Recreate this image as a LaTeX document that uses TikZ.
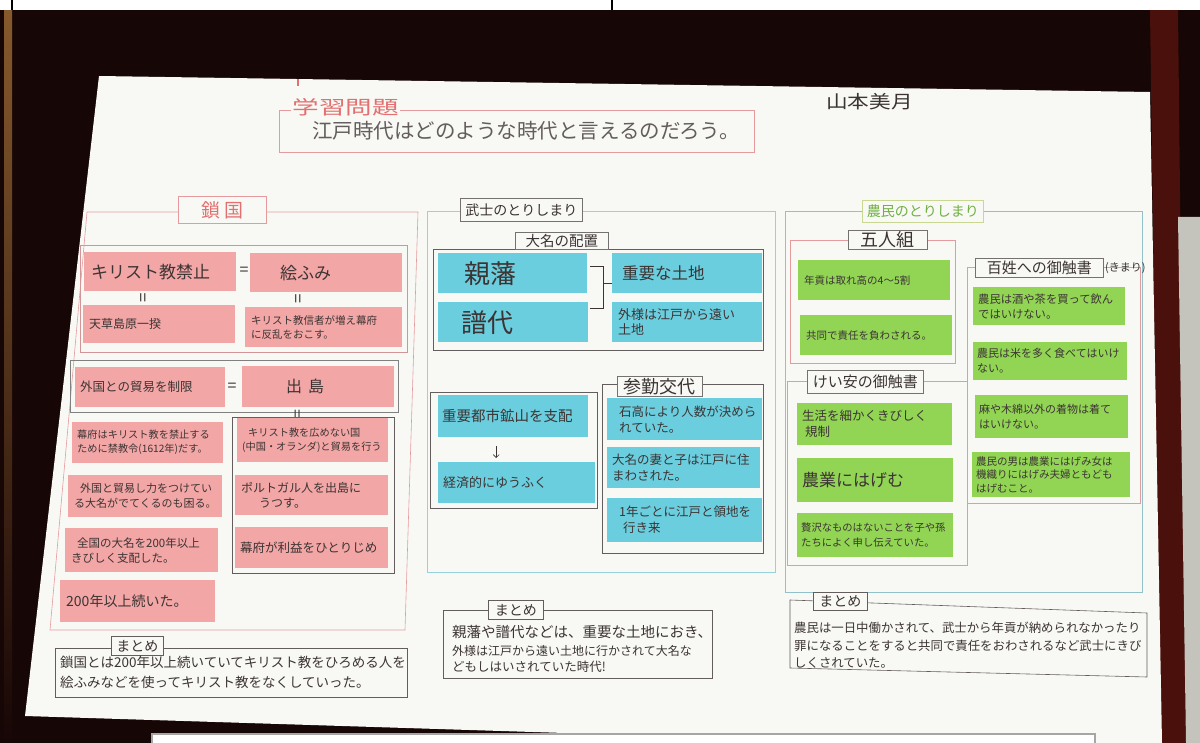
\documentclass[tikz,border=0pt]{standalone}
\usepackage{fontspec}
\setmainfont{Noto Sans CJK JP}
\usetikzlibrary{calc,arrows.meta}
\definecolor{paperc}{HTML}{F8F9F4}
\definecolor{pinkc}{HTML}{F2A6A5}
\definecolor{cyanc}{HTML}{6BCEDE}
\definecolor{greenc}{HTML}{92D454}
\definecolor{inkc}{HTML}{3C3434}
\definecolor{redline}{HTML}{E59A9E}
\definecolor{cyanline}{HTML}{96D2DC}
\definecolor{darkbg}{HTML}{170606}
\definecolor{maroon}{HTML}{4A100C}
\definecolor{greyright}{HTML}{C4C4BC}
\definecolor{titlered}{HTML}{E27070}
\definecolor{greentxt}{HTML}{6FB040}
\definecolor{greenline}{HTML}{C8D890}
\newcommand\myfs[2]{\fontsize{#1pt}{#2pt}\selectfont}
\tikzset{
  box/.style={anchor=north west, inner sep=0pt, align=left, text=inkc},
  bx/.style n args={3}{minimum width=#1pt, minimum height=#2pt, text width=#3pt},
  pbox/.style={box, fill=pinkc},
  cbox/.style={box, fill=cyanc},
  gbox/.style={box, fill=greenc},
  lab/.style={anchor=north west, draw=#1, fill=paperc, inner sep=0pt, line width=0.6pt, text=inkc},
  frm/.style={draw=#1, line width=0.6pt},
  ln/.style={draw=inkc, line width=0.6pt},
  txt/.style={anchor=north west, inner sep=0pt, align=left, text=inkc},
  eqv/.style={text=inkc, inner sep=0pt},
}
\begin{document}
\begin{tikzpicture}[x=1pt,y=-1pt]
\useasboundingbox (0,0) rectangle (1200,743);
% ---------- photo background ----------
\fill[darkbg] (0,0) rectangle (1200,743);
\shade[top color=black!30!brown, bottom color=darkbg] (4,10) rectangle (12,743);
\fill[maroon] (1150,10) -- (1178,10) -- (1186,743) -- (1160,743) -- cycle;
\fill[greyright] (1178,217) -- (1200,217) -- (1200,743) -- (1186,743) -- cycle;
\fill[paperc] (99,76) -- (1150,92) -- (1162,743) -- (700,743) -- (660,736) -- (25,716) -- cycle;
\draw[titlered, line width=1.2pt] (298,79) -- (298,86);
\fill[white] (0,0) rectangle (1200,10);
\draw[black, line width=1.2pt] (12,0) -- (12,10);
\draw[black, line width=1.2pt] (612,0) -- (612,10);
\draw[fill=white, draw=gray!70, line width=1.5pt] (152,734) rectangle (1095,746);

% ---------- title ----------
\draw[frm=redline] (279,110) rectangle (754,152);
\node[anchor=north west, fill=paperc, inner sep=1pt, text=titlered, xscale=1.4, font={\myfs{19}{20}}] (gakushu) at (291,97) {学習問題};
\node[txt, text=inkc!80, font={\myfs{20.5}{22}}] (toi) at (312,121) {江戸時代はどのような時代と言えるのだろう。};
\node[txt, xscale=1.2, font={\myfs{18}{20}}] (name) at (826,93) {山本美月};

% ---------- 鎖国 ----------
\draw[frm=redline] (87,212) -- (418,212) -- (405,630) -- (50,630) -- cycle;
\node[lab=redline, text=titlered, minimum width=88pt, minimum height=27pt, font={\myfs{19}{20}}] (sakoku) at (178,196) {鎖 国};

\draw[frm=redline!80!gray] (80,245) rectangle (407,352);
\node[pbox, bx={152}{39}{138}, font={\myfs{17}{20}}] (kin) at (84,252) {キリスト教禁止};
\node[eqv, font={\myfs{16}{16}}] (eqa) at (244,271) {=};
\node[pbox, bx={152}{39}{136}, font={\myfs{17}{20}}] (efumi) at (250,253) {\hspace*{22pt}絵ふみ};
\node[eqv, rotate=90, font={\myfs{17}{17}}] (qa) at (145,298) {=};
\node[eqv, rotate=90, font={\myfs{17}{17}}] (qb) at (300,299) {=};
\node[pbox, bx={152}{38}{140}, font={\myfs{12}{15}}] (amakusa) at (83,305) {天草島原一揆};
\node[pbox, bx={157}{40}{145}, font={\myfs{10.5}{14}}] (hanran) at (245,307) {キリスト教信者が増え幕府\\に反乱をおこす。};

\draw[frm=gray] (70,360) rectangle (398,412);
\node[pbox, bx={150}{40}{140}, font={\myfs{12.5}{15}}] (boueki) at (75,367) {外国との貿易を制限};
\node[eqv, font={\myfs{16}{16}}] (eqb) at (232,387) {=};
\node[pbox, bx={152}{41}{140}, font={\myfs{16}{18}}] (dejima) at (242,366) {\hspace*{38pt}出\hspace{6pt}島};
\node[eqv, rotate=90, font={\myfs{16}{16}}] (qc) at (299,414) {=};

\draw[frm=inkc!80] (232,417) rectangle (394,573);
\node[pbox, bx={151}{41}{141}, font={\myfs{10.2}{14}}] (kinkyo) at (72,422) {幕府はキリスト教を禁止する\\ために禁教令(1612年)だす。};
\node[pbox, bx={154}{42}{142}, font={\myfs{11}{15}}] (tsuyoi) at (68,475) {\hspace*{6pt}外国と貿易し力をつけてい\\る大名がでてくるのも困る。};
\node[pbox, bx={153}{44}{141}, font={\myfs{11.5}{15}}] (zenkoku) at (65,528) {\hspace*{6pt}全国の大名を200年以上\\きびしく支配した。};
\node[pbox, bx={155}{42}{143}, font={\myfs{14}{16}}] (nihyaku) at (60,580) {200年以上続いた。};
\node[pbox, bx={151}{44}{141}, font={\myfs{10.2}{14}}] (hiromenai) at (237,418) {\hspace*{6pt}キリスト教を広めない国\\(中国・オランダ)と貿易を行う};
\node[pbox, bx={153}{40}{141}, font={\myfs{12}{15}}] (porto) at (235,475) {ポルトガル人を出島に\\\hspace*{18pt}うつす。};
\node[pbox, bx={153}{41}{143}, font={\myfs{12.5}{15}}] (rieki) at (235,527) {幕府が利益をひとりじめ};

\draw[frm=inkc!80] (55,648) rectangle (407,697);
\node[lab=inkc!80, minimum width=52pt, minimum height=19pt, font={\myfs{14}{15}}] (mt1) at (111,636) {まとめ};
\node[txt, font={\myfs{13.5}{20}}] (mt1t) at (60,656) {鎖国とは200年以上続いていてキリスト教をひろめる人を\\絵ふみなどを使ってキリスト教をなくしていった。};

% ---------- 武士のとりしまり ----------
\draw[frm=cyanline] (427,211) rectangle (775,572);
\node[lab=inkc!70, minimum width=122pt, minimum height=23pt, font={\myfs{14}{15}}] (bushi) at (460,198) {武士のとりしまり};
\draw[frm=inkc!80] (433,249) rectangle (763,350);
\node[lab=inkc!70, minimum width=93pt, minimum height=17pt, font={\myfs{14.5}{15}}] (haichi) at (515,232) {大名の配置};
\node[cbox, bx={149}{40}{137}, font={\myfs{26}{28}}] (shinpan) at (438,253) {\hspace*{20pt}親藩};
\node[cbox, bx={150}{40}{138}, font={\myfs{26}{28}}] (fudai) at (438,302) {\hspace*{17pt}譜代};
\node[cbox, bx={150}{40}{138}, font={\myfs{16.5}{18}}] (jyuyotochi) at (612,253) {\hspace*{4pt}重要な土地};
\node[cbox, bx={150}{40}{138}, font={\myfs{13}{15}}] (tozama) at (612,302) {外様は江戸から遠い\\土地};
\coordinate (b1) at ($(shinpan.east)+(3,-7)$);
\coordinate (b2) at ($(fudai.east)+(2,-14)$);
\draw[ln] (b1) -- ++(13,0) |- (b2);
\draw[ln] ($(b1)+(13,17)$) -- ($(jyuyotochi.west)+(0,10)$);

\draw[frm=inkc!80] (430,392) rectangle (597,508);
\node[cbox, bx={150}{42}{142}, font={\myfs{14.5}{16}}] (jyusi) at (438,395) {重要都市鉱山を支配};
\node[cbox, bx={157}{41}{147}, font={\myfs{13}{15}}] (keizai) at (438,462) {経済的にゆうふく};
\draw[ln, -{Straight Barb[length=3pt]}] ($(jyusi.south)+(-17,9)$) -- ($(keizai.north)+(-20.5,-4)$);

\draw[frm=inkc!80] (602,384) rectangle (763,553);
\node[lab=inkc!70, minimum width=85pt, minimum height=20pt, font={\myfs{18}{19}}] (sankin) at (617,376) {参勤交代};
\node[cbox, bx={155}{42}{143}, font={\myfs{12.5}{16}}] (kokudaka) at (607,398) {\hspace*{6pt}石高により人数が決めら\\\hspace*{6pt}れていた。};
\node[cbox, bx={153}{41}{143}, font={\myfs{12.5}{16}}] (tsuma) at (607,447) {大名の妻と子は江戸に住\\まわされた。};
\node[cbox, bx={155}{44}{143}, font={\myfs{12.5}{16}}] (ichinen) at (607,498) {\hspace*{6pt}1年ごとに江戸と領地を\\\hspace*{10pt}行き来};

\draw[frm=inkc!80] (443,610) rectangle (712,678);
\node[lab=inkc!80, minimum width=55pt, minimum height=19pt, font={\myfs{14}{15}}] (mt2) at (488,600) {まとめ};
\node[txt, font={\myfs{14.5}{16}}] (mt2a) at (452,625) {親藩や譜代などは、重要な土地におき、};
\node[txt, font={\myfs{12}{14}}] (mt2b) at (452,645) {外様は江戸から遠い土地に行かされて大名な};
\node[txt, font={\myfs{12.5}{14}}] (mt2c) at (452,661) {どもしはいされていた時代!};

% ---------- 農民のとりしまり ----------
\draw[frm=cyanline!80!gray] (785,211) rectangle (1142,592);
\node[lab=greenline, text=greentxt, minimum width=121pt, minimum height=22pt, font={\myfs{14}{15}}] (nomin) at (862,200) {農民のとりしまり};

\draw[frm=redline] (790,240) rectangle (955,363);
\node[lab=inkc!70, minimum width=79pt, minimum height=19pt, font={\myfs{18}{19}}] (gonin) at (848,230) {五人組};
\node[gbox, bx={152}{40}{140}, font={\myfs{10.5}{14}}] (nengu) at (798,260) {年貢は取れ高の4〜5割};
\node[gbox, bx={152}{40}{140}, font={\myfs{10.5}{14}}] (kyodo) at (800,315) {共同で責任を負わされる。};

\draw[frm=redline] (967,267) rectangle (1140,503);
\node[lab=inkc!70, minimum width=128pt, minimum height=19pt, font={\myfs{15}{16}}] (ofure) at (975,258) {百姓への御触書};
\node[txt, font={\myfs{11}{12}}] (kimari) at (1105,262) {(きまり)};
\node[gbox, bx={152}{38}{142}, font={\myfs{11.3}{15}}] (sake) at (973,287) {農民は酒や茶を買って飲ん\\ではいけない。};
\node[gbox, bx={154}{38}{146}, font={\myfs{11}{15}}] (kome) at (973,342) {農民は米を多く食べてはいけ\\ない。};
\node[gbox, bx={153}{43}{145}, font={\myfs{11}{15}}] (asa) at (975,395) {麻や木綿以外の着物は着て\\はいけない。};
\node[gbox, bx={158}{45}{150}, font={\myfs{10.5}{13.5}}] (otoko) at (972,452) {農民の男は農業にはげみ女は\\機織りにはげみ夫婦ともども\\はげむこと。};

\draw[frm=redline] (787,381) rectangle (967,565);
\node[lab=inkc!70, minimum width=116pt, minimum height=23pt, font={\myfs{15}{16}}] (keian) at (807,370) {けい安の御触書};
\node[gbox, bx={155}{42}{145}, font={\myfs{12.5}{16}}] (seikatsu) at (797,403) {生活を細かくきびしく\\\hspace*{3pt}規制};
\node[gbox, bx={156}{44}{146}, font={\myfs{17}{19}}] (nogyo) at (797,458) {農業にはげむ};
\node[gbox, bx={156}{44}{148}, font={\myfs{10.3}{15}}] (zeitaku) at (797,513) {贅沢なものはないことを子や孫\\たちによく申し伝えていた。};

\draw[frm=inkc!80] (790,600) -- (1147,613) -- (1147,677) -- (790,668) -- cycle;
\node[lab=inkc!80, minimum width=54pt, minimum height=18pt, font={\myfs{14}{15}}] (mt3) at (813,592) {まとめ};
\node[txt, font={\myfs{12.4}{13}}] (mt3a) at (794,622) {農民は一日中働かされて、武士から年貢が納められなかったり};
\node[txt, font={\myfs{12.4}{13}}] (mt3b) at (794,640) {罪になることをすると共同で責任をおわされるなど武士にきび};
\node[txt, font={\myfs{12.4}{13}}] (mt3c) at (794,657) {しくされていた。};
\end{tikzpicture}
\end{document}
